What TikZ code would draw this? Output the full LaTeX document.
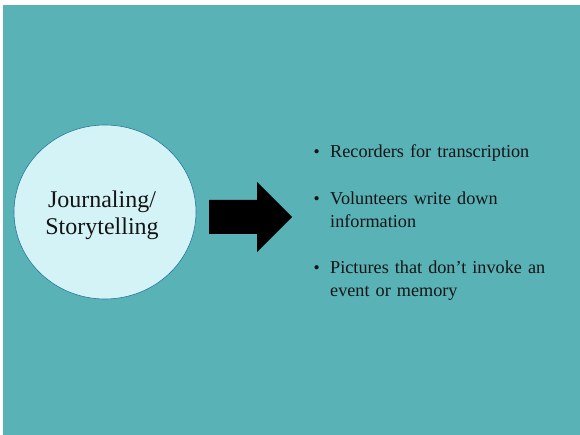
\documentclass[tikz,border=0pt]{standalone}
\usepackage{fontspec}
\setmainfont{Liberation Serif}
\usetikzlibrary{positioning}
\usetikzlibrary{calc}
\usetikzlibrary{shapes.geometric}

\definecolor{slideteal}{RGB}{88,178,182}
\definecolor{bubblefill}{RGB}{212,243,246}
\definecolor{bubbleline}{RGB}{40,120,160}
\definecolor{inktext}{RGB}{20,20,20}

\begin{document}
\begin{tikzpicture}[x=1pt,y=-1pt]
  \tikzset{node distance=2pt,
           bubble/.style={ellipse,minimum width=182pt,minimum height=174pt,inner sep=0pt,
                          fill=bubblefill,draw=bubbleline,line width=0.6pt},
           itembox/.style={anchor=base west,text width=240pt,inner sep=0pt,align=left,
                           text=inktext,font=\fontsize{18.2}{23}\selectfont},
           dotbox/.style={anchor=base east,inner sep=0pt,text=inktext,
                          font=\fontsize{17.5}{23}\selectfont}}
  \useasboundingbox (0,0) rectangle (580,435);
  \fill[slideteal] (3,5) rectangle (580,435);

  \node[bubble] (journal) at (105,212) {};
  \node[align=center,text=inktext,font=\fontsize{24}{27}\selectfont] (journaltext) at (102,215) {Journaling/\\Storytelling};

  % big arrow
  \coordinate (arrowtail) at (209,217);
  \coordinate (arrowtip) at (292,217);
  \fill[black] (arrowtail) ++(0,-17) -- (257,200) -- (257,182) -- (arrowtip)
    -- (257,252) -- (257,234) -- ($(arrowtail)+(0,17)$) -- cycle;

  \node[itembox] (rec) at (330,158) {Recorders for transcription};
  \node[itembox] (vol) at (330,205) {Volunteers write down\\information};
  \node[itembox] (pic) at (330,273) {Pictures that don't invoke an\\event or memory};

  \node[left=10pt of rec.base west,dotbox] (recdot) {\textbullet};
  \node[left=10pt of vol.base west,dotbox] (voldot) {\textbullet};
  \node[left=10pt of pic.base west,dotbox] (picdot) {\textbullet};
\end{tikzpicture}
\end{document}
